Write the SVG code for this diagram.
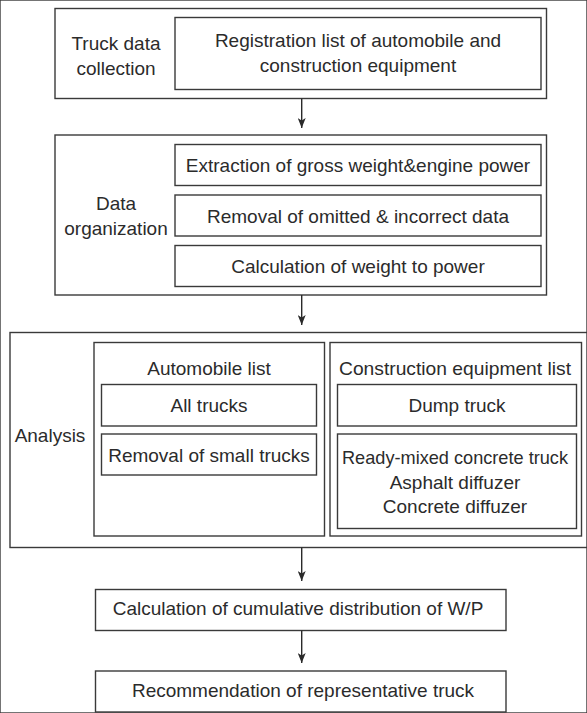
<svg xmlns="http://www.w3.org/2000/svg" width="587" height="713" viewBox="0 0 587 713">
<style>
rect{fill:none;stroke:#3a3a3a;stroke-width:1.4}
text{font-family:"Liberation Sans",Arial,sans-serif;font-size:19px;fill:#2b2b2b;text-anchor:middle}
.c{stroke:#2a2a2a;stroke-width:1.4;fill:none}
</style>
<defs>
<marker id="ah" markerWidth="10" markerHeight="8" refX="10" refY="4" orient="auto" markerUnits="userSpaceOnUse" viewBox="0 0 10 8">
<path d="M0,0 L10,4 L0,8 L2.5,4 Z" fill="#2a2a2a"/>
</marker>
</defs>
<rect width="587" height="713" fill="#fff" stroke="none"/>
<g id="collection">
<rect x="55" y="8.5" width="491.5" height="90"/>
<text x="116" y="50">Truck data</text>
<text x="116" y="75">collection</text>
<rect x="175" y="17.5" width="366" height="72"/>
<text x="358" y="46.5">Registration list of automobile and</text>
<text x="358" y="71.5">construction equipment</text>
</g>
<g id="organization">
<rect x="55" y="135" width="491.5" height="160"/>
<text x="116" y="210">Data</text>
<text x="116" y="235">organization</text>
<rect x="175" y="144.5" width="366" height="41"/>
<text x="358" y="172">Extraction of gross weight&amp;engine power</text>
<rect x="175" y="195" width="366" height="41"/>
<text x="358" y="222.5">Removal of omitted &amp; incorrect data</text>
<rect x="175" y="245.5" width="366" height="41"/>
<text x="358" y="273">Calculation of weight to power</text>
</g>
<g id="analysis">
<rect x="10" y="332.5" width="590" height="215"/>
<text x="50" y="442">Analysis</text>
</g>
<g id="automobile">
<rect x="94" y="342.5" width="230.5" height="193.5"/>
<text x="209" y="375">Automobile list</text>
<rect x="101.5" y="384.5" width="215" height="41.5"/>
<text x="209" y="412">All trucks</text>
<rect x="101.5" y="434" width="215" height="41"/>
<text x="209" y="462">Removal of small trucks</text>
</g>
<g id="construction">
<rect x="330" y="342.5" width="251.5" height="193.5"/>
<text x="455" y="375" textLength="232" lengthAdjust="spacingAndGlyphs">Construction equipment list</text>
<rect x="337.5" y="384.5" width="239" height="41.5"/>
<text x="457" y="412">Dump truck</text>
<rect x="337.5" y="434" width="239" height="94.5"/>
<text x="455" y="463.5" textLength="226" lengthAdjust="spacingAndGlyphs">Ready-mixed concrete truck</text>
<text x="455" y="489">Asphalt diffuzer</text>
<text x="455" y="513">Concrete diffuzer</text>
</g>
<g id="cumulative">
<rect x="95.5" y="589.5" width="410.5" height="41"/>
<text x="298" y="615">Calculation of cumulative distribution of W/P</text>
</g>
<g id="recommendation">
<rect x="95.5" y="671" width="410.5" height="41"/>
<text x="303" y="697">Recommendation of representative truck</text>
</g>
<g id="connectors">
<line class="c" x1="301.7" y1="98.5" x2="301.7" y2="128" marker-end="url(#ah)"/>
<line class="c" x1="301.7" y1="295" x2="301.7" y2="325" marker-end="url(#ah)"/>
<line class="c" x1="301.7" y1="547.5" x2="301.7" y2="581" marker-end="url(#ah)"/>
<line class="c" x1="301.7" y1="630.5" x2="301.7" y2="663" marker-end="url(#ah)"/>
</g>
</svg>
